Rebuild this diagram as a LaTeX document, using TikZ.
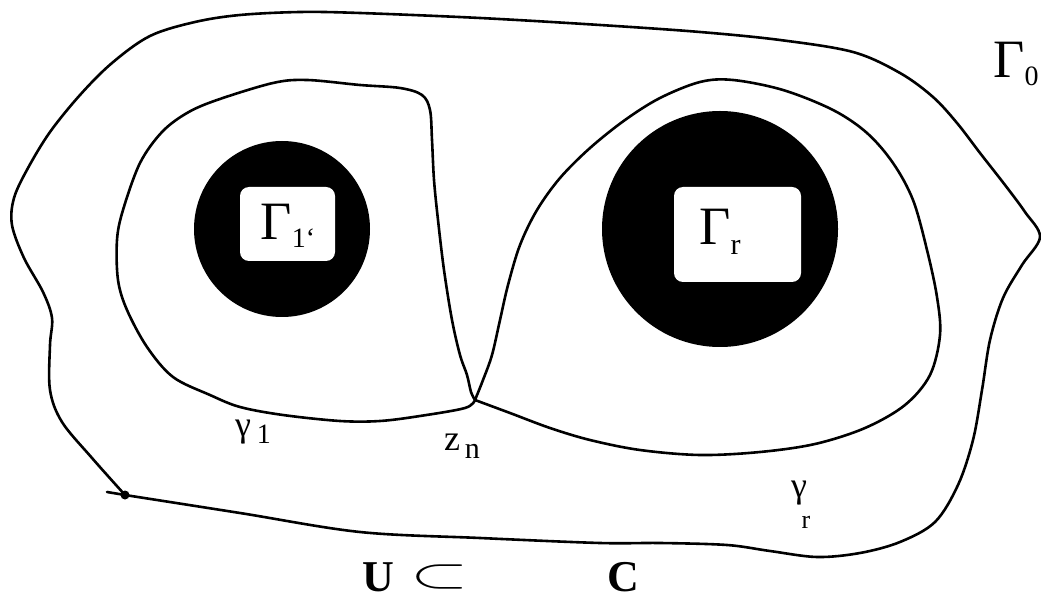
\documentclass[tikz,border=0pt]{standalone}
\usepackage{fontspec}
\usepackage{graphicx}
\setmainfont{Liberation Serif}
\begin{document}
\begin{tikzpicture}[x=1pt,y=-1pt,line join=round,line cap=round]
\tikzset{
  curve/.style={draw=black,line width=2.6pt},
  disk/.style={fill=black},
  hole/.style={fill=white,rounded corners=9pt},
  biglabel/.style={inner sep=0pt,font=\fontsize{54}{54}\selectfont},
  smalllabel/.style={inner sep=0pt,font=\fontsize{36}{36}\selectfont},
  boldlabel/.style={inner sep=0pt,font=\fontsize{44}{44}\selectfont\bfseries}
}
\useasboundingbox (0,0) rectangle (1041,601);
\fill[white] (0,0) rectangle (1041,601);

% black annuli
\fill[disk] (282,229) circle[radius=88];
\fill[hole] (240,187) rectangle (335,261);
\fill[disk] (720,229) circle[radius=118];
\fill[hole] (674,187) rectangle (801,282);

% outer curve Gamma_0
\coordinate (s) at (125,495);
\draw[curve] plot[smooth,tension=0.55] coordinates {
 (125,495) (92,458) (62,422) (50,390) (50,345) (52,318) (43,292) (24,258)
 (12,225) (14,198) (28,168) (50,132) (80,95) (112,63) (150,36) (195,22)
 (240,15) (300,12) (360,13) (480,18) (600,25) (700,32) (780,40) (853,52)
 (900,73) (933,97) (957,123) (980,153) (1005,185) (1025,212) (1040,237)
 (1022,265) (1003,298) (990,340) (982,390) (973,440) (958,485) (935,522)
 (900,542) (860,553) (817,557) (770,551) (727,545) (660,543) (600,543)
 (480,538) (360,532) (240,513) (125,495)};
\coordinate (t) at (107,492);
\draw[curve] (s) -- (t);
\fill (s) circle[radius=4.5];

% left loop gamma_1
\coordinate (zn) at (475,400);
\draw[curve] plot[smooth,tension=0.55] coordinates {
 (475,400) (465,408) (420,416) (380,421) (340,421) (283,415) (240,407)
 (210,395) (173,377) (147,347) (127,310) (118,280) (117,240) (123,210)
 (140,163) (162,132) (187,113) (217,100) (273,83) (307,80) (360,85)
 (400,88) (422,95) (430,110) (432,140) (434,180) (438,220) (444,270)
 (452,320) (460,355) (467,375) (471,392) (475,400)};

% right loop gamma_r
\draw[curve] plot[smooth,tension=0.55] coordinates {
 (475,400) (483,380) (492,355) (500,320) (508,285) (520,245) (537,210)
 (560,178) (590,148) (625,120) (660,98) (700,82) (733,80) (783,90)
 (833,110) (867,133) (893,163) (913,200) (927,250) (937,297) (940,335)
 (930,375) (905,405) (865,428) (815,444) (760,452) (700,455) (640,450)
 (590,440) (550,428) (510,413) (475,400)};

% labels
\node[biglabel] (g0) at (1016,64) {Γ\raisebox{-0.3ex}{\fontsize{28}{28}\selectfont 0}};
\node[biglabel] (g1) at (288,226) {Γ\raisebox{-0.3ex}{\fontsize{28}{28}\selectfont 1‘}};
\node[biglabel] (gr) at (720,232) {Γ\raisebox{-0.4ex}{\fontsize{30}{30}\selectfont r}};
\node[smalllabel] (c1) at (253,432) {γ\hspace{6pt}\raisebox{-0.45ex}{\fontsize{28}{28}\selectfont 1}};
\node[smalllabel] (zl) at (462,446) {z\hspace{5pt}\raisebox{-0.5ex}{\fontsize{30}{30}\selectfont n}};
\node[smalllabel] (cr) at (799,493) {γ};
\node[inner sep=0pt,font=\fontsize{26}{26}\selectfont] (crs) at (806,522) {r};
\node[boldlabel] (U) at (378,577) {U};
\node[inner sep=0pt] (sub) at (440,577) {\scalebox{7.5}[4.2]{$\subset$}};
\node[boldlabel] (C) at (623,577) {C};
\end{tikzpicture}
\end{document}
